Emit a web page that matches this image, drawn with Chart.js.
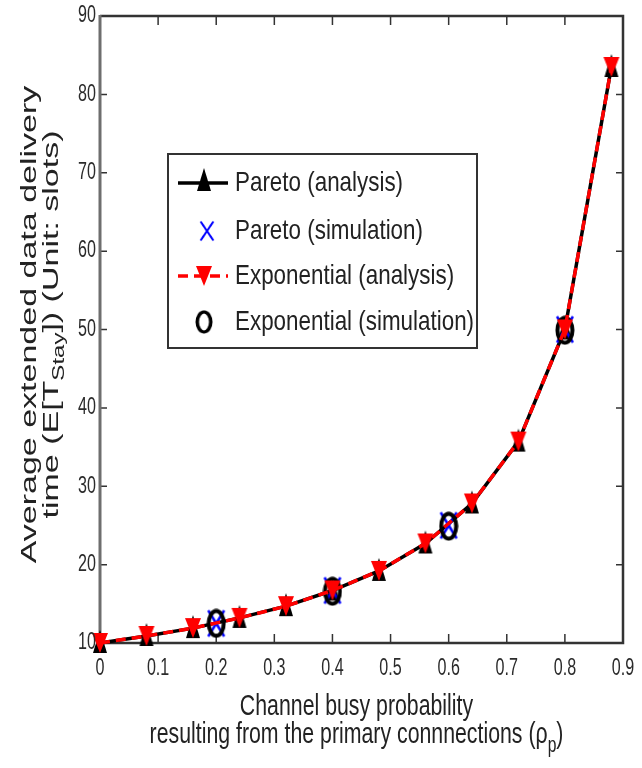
<!DOCTYPE html>
<html>
<head>
<meta charset="utf-8">
<script src="https://cdn.jsdelivr.net/npm/chart.js@4/dist/chart.umd.min.js"></script>
<style>
  body { margin: 0; background: #fff; }
</style>
</head>
<body>
<canvas id="graf-stay" width="642" height="768"></canvas>
<script>
// values
const rho = [0, 0.08, 0.16, 0.24, 0.32, 0.40, 0.48, 0.56, 0.64, 0.72, 0.80, 0.88];
const paretoAnalysis = [10, 10.9, 11.9, 13.2, 14.7, 16.7, 19.2, 22.7, 27.8, 35.7, 50.0, 83.5];
const expAnalysis = [10, 10.9, 11.9, 13.2, 14.7, 16.7, 19.2, 22.7, 27.8, 35.7, 50.0, 83.5];
const simRho = [0.2, 0.4, 0.6, 0.8];
const paretoSim = [12.5, 16.7, 25.0, 50.0];
const expSim = [12.5, 16.6, 24.9, 49.9];

const xTicks = [0, 0.1, 0.2, 0.3, 0.4, 0.5, 0.6, 0.7, 0.8, 0.9];
const xTickLabels = ["0", "0.1", "0.2", "0.3", "0.4", "0.5", "0.6", "0.7", "0.8", "0.9"];
const yTicks = [10, 20, 30, 40, 50, 60, 70, 80, 90];
const yTickLabels = ["10", "20", "30", "40", "50", "60", "70", "80", "90"];

const legendLabels = ["Pareto (analysis)", "Pareto (simulation)", "Exponential (analysis)", "Exponential (simulation)"];

const FONT = '"Liberation Sans", Arial, Helvetica, sans-serif';

function pts(xs, ys) {
    return xs.map((x, i) => ({ x: x, y: ys[i] }));
}

// the original picture is squeezed sideways, so markers are drawn a bit narrow
function marker(w, h, draw) {
    const c = document.createElement("canvas");
    c.width = w;
    c.height = h;
    draw(c.getContext("2d"), w, h);
    return c;
}

const triUp = marker(16, 28, (g, w, h) => {
    g.fillStyle = "#000";
    g.beginPath();
    g.moveTo(w / 2, 1); g.lineTo(w - 1, h - 4); g.lineTo(1, h - 4);
    g.closePath();
    g.fill();
});
const triDown = marker(18, 22, (g, w, h) => {
    g.fillStyle = "#ff0000";
    g.beginPath();
    g.moveTo(1, 1); g.lineTo(w - 1, 1); g.lineTo(w / 2, h - 1);
    g.closePath();
    g.fill();
});
const crossBlue = marker(20, 30, (g, w, h) => {
    g.strokeStyle = "#0000ff";
    g.lineWidth = 2.5;
    g.beginPath();
    g.moveTo(2, 2); g.lineTo(w - 2, h - 2);
    g.moveTo(w - 2, 2); g.lineTo(2, h - 2);
    g.stroke();
});
const ringBlack = marker(20, 30, (g, w, h) => {
    g.strokeStyle = "#000";
    g.lineWidth = 4;
    g.beginPath();
    g.ellipse(w / 2, h / 2, w / 2 - 2.5, h / 2 - 2.5, 0, 0, Math.PI * 2);
    g.stroke();
});

function squeezed(ctx, text, x, y, size, sx, align) {
    ctx.save();
    ctx.translate(x, y);
    ctx.scale(sx, 1);
    ctx.font = size + "px " + FONT;
    ctx.textAlign = align;
    ctx.textBaseline = "middle";
    ctx.fillText(text, 0, 0);
    ctx.restore();
}

// draws parts [{t, sub}] centred on (0,0) in the current transform
function richLine(ctx, parts, size) {
    const subSize = Math.round(size * 0.72);
    let total = 0;
    parts.forEach(p => {
        ctx.font = (p.sub ? subSize : size) + "px " + FONT;
        p.w = ctx.measureText(p.t).width;
        total += p.w;
    });
    let x = -total / 2;
    ctx.textAlign = "left";
    ctx.textBaseline = "middle";
    parts.forEach(p => {
        ctx.font = (p.sub ? subSize : size) + "px " + FONT;
        ctx.fillText(p.t, x, p.sub ? size * 0.36 : 0);
        x += p.w;
    });
}

const framePlugin = {
    id: "frame",
    beforeDatasetsDraw(chart) {
        const ctx = chart.ctx;
        const a = chart.chartArea;
        const xs = chart.scales.x, ys = chart.scales.y;
        ctx.save();
        // inward ticks on all four sides
        ctx.strokeStyle = "#333";
        ctx.lineWidth = 1.5;
        ctx.beginPath();
        xTicks.forEach(v => {
            const px = xs.getPixelForValue(v);
            ctx.moveTo(px, a.bottom); ctx.lineTo(px, a.bottom - 9);
            ctx.moveTo(px, a.top); ctx.lineTo(px, a.top + 9);
        });
        yTicks.forEach(v => {
            const py = ys.getPixelForValue(v);
            ctx.moveTo(a.left, py); ctx.lineTo(a.left + 7, py);
            ctx.moveTo(a.right, py); ctx.lineTo(a.right - 7, py);
        });
        ctx.stroke();
        // box
        ctx.lineWidth = 2.5;
        ctx.strokeStyle = "#333";
        ctx.beginPath();
        ctx.moveTo(a.left, a.top); ctx.lineTo(a.right, a.top);
        ctx.lineTo(a.right, a.bottom); ctx.lineTo(a.left, a.bottom);
        ctx.stroke();
        ctx.strokeStyle = "#6e6e6e";
        ctx.lineWidth = 3;
        ctx.beginPath();
        ctx.moveTo(a.left, a.top - 1); ctx.lineTo(a.left, a.bottom);
        ctx.stroke();
        ctx.restore();
    },
    afterDraw(chart) {
        const ctx = chart.ctx;
        const a = chart.chartArea;
        const xs = chart.scales.x, ys = chart.scales.y;
        ctx.save();
        ctx.fillStyle = "#2b2b2b";
        xTicks.forEach((v, i) => {
            squeezed(ctx, xTickLabels[i], xs.getPixelForValue(v), a.bottom + 26, 23, 0.7, "center");
        });
        yTicks.forEach((v, i) => {
            squeezed(ctx, yTickLabels[i], a.left - 4, ys.getPixelForValue(v), 23, 0.7, "right");
        });

        // x title
        const cx = (a.left + a.right) / 2 - 5;
        ctx.fillStyle = "#222";
        squeezed(ctx, "Channel busy probability", cx, a.bottom + 64, 30, 0.71, "center");
        ctx.save();
        ctx.translate(cx, a.bottom + 92);
        ctx.scale(0.71, 1);
        richLine(ctx, [{ t: "resulting from the primary connnections (\u03c1" }, { t: "p", sub: true }, { t: ")" }], 30);
        ctx.restore();

        // y title, two rotated lines
        const cy = (a.top + a.bottom) / 2 - 5;
        ctx.save();
        ctx.translate(30, cy);
        ctx.rotate(-Math.PI / 2);
        ctx.scale(1, 0.65);
        richLine(ctx, [{ t: "Average extended data delivery" }], 34);
        ctx.restore();
        ctx.save();
        ctx.translate(52, cy);
        ctx.rotate(-Math.PI / 2);
        ctx.scale(1, 0.65);
        richLine(ctx, [{ t: "time (E[T" }, { t: "Stay", sub: true }, { t: "]) (Unit: slots)" }], 34);
        ctx.restore();

        // legend
        const bx = 168, by = 154, bw = 309, bh = 194;
        ctx.fillStyle = "#fff";
        ctx.fillRect(bx, by, bw, bh);
        ctx.strokeStyle = "#333";
        ctx.lineWidth = 2;
        ctx.strokeRect(bx, by, bw, bh);
        const rows = [183, 231, 276, 322];
        const sx0 = 178, sx1 = 228, mx = 204;
        ctx.strokeStyle = "#000";
        ctx.lineWidth = 3.5;
        ctx.beginPath(); ctx.moveTo(sx0, rows[0]); ctx.lineTo(sx1, rows[0]); ctx.stroke();
        ctx.drawImage(triUp, mx - triUp.width / 2, rows[0] - triUp.height / 2 - 2);
        ctx.drawImage(crossBlue, mx + 3 - 8, rows[1] - 11, 16, 22);
        ctx.strokeStyle = "#ff0000";
        ctx.setLineDash([10, 6]);
        ctx.beginPath(); ctx.moveTo(sx0, rows[2]); ctx.lineTo(sx1, rows[2]); ctx.stroke();
        ctx.setLineDash([]);
        ctx.drawImage(triDown, mx - triDown.width / 2, rows[2] - triDown.height / 2);
        ctx.drawImage(ringBlack, mx - 9, rows[3] - 12, 18, 24);
        ctx.fillStyle = "#222";
        legendLabels.forEach((t, i) => squeezed(ctx, t, 235, rows[i], 28, 0.8, "left"));
        ctx.restore();
    }
};

new Chart("graf-stay", {
    type: "line",
    data: {
        datasets: [
            {
                label: legendLabels[2],
                data: pts(rho, expAnalysis),
                borderColor: "#ff0000",
                borderWidth: 3.5,
                borderDash: [10, 6],
                pointStyle: triDown,
                order: 0
            },
            {
                label: legendLabels[3],
                data: pts(simRho, expSim),
                showLine: false,
                pointStyle: ringBlack,
                order: 1
            },
            {
                label: legendLabels[1],
                data: pts(simRho, paretoSim),
                showLine: false,
                pointStyle: crossBlue,
                order: 2
            },
            {
                label: legendLabels[0],
                data: pts(rho, paretoAnalysis),
                borderColor: "#000",
                borderWidth: 3.5,
                pointStyle: triUp,
                order: 3
            }
        ]
    },
    options: {
        responsive: false,
        animation: false,
        clip: false,
        layout: { padding: { left: 100, right: 19, top: 16, bottom: 125 } },
        elements: { line: { tension: 0 } },
        plugins: {
            legend: { display: false },
            tooltip: { enabled: false }
        },
        scales: {
            x: {
                type: "linear",
                min: 0,
                max: 0.9,
                grid: { display: false },
                border: { display: false },
                ticks: { display: false },
                afterBuildTicks: s => { s.ticks = xTicks.map(v => ({ value: v })); },
                afterFit: s => { s.height = 0; }
            },
            y: {
                type: "linear",
                min: 10,
                max: 90,
                grid: { display: false },
                border: { display: false },
                ticks: { display: false },
                afterBuildTicks: s => { s.ticks = yTicks.map(v => ({ value: v })); },
                afterFit: s => { s.width = 0; }
            }
        }
    },
    plugins: [framePlugin]
});
</script>
</body>
</html>
